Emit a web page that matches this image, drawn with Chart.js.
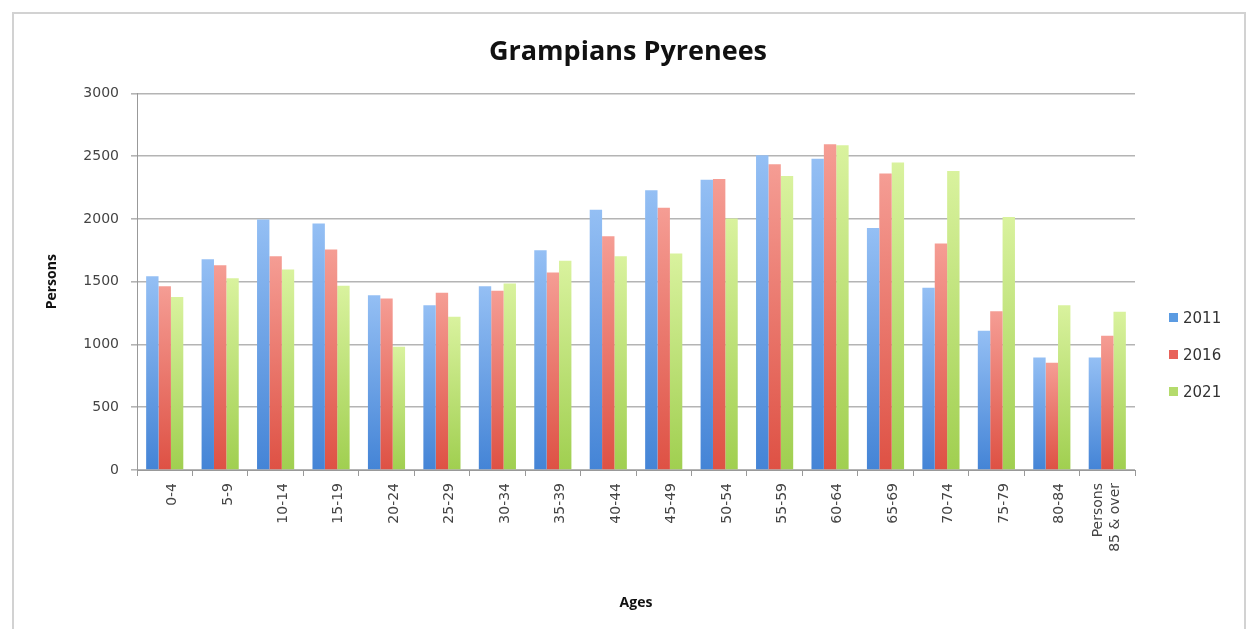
<!DOCTYPE html>
<html>
<head>
<meta charset="utf-8">
<title>Grampians Pyrenees</title>
<script src="https://cdn.jsdelivr.net/npm/chart.js@4/dist/chart.umd.min.js"></script>
<style>
  html, body { margin: 0; padding: 0; background: #fff; }
  #wrap { position: relative; width: 1256px; height: 629px; overflow: hidden; }
  #frame {
    position: absolute; left: 12px; top: 12px; width: 1230px; height: 700px;
    border: 2px solid #d2d2d2; pointer-events: none;
  }
  canvas { position: absolute; left: 0; top: 0; }
  #legend {
    position: absolute; left: 1169px; top: 306px;
    font-family: "DejaVu Sans", sans-serif; font-size: 15px; color: #333;
  }
  #legend .item { height: 37px; line-height: 24px; white-space: nowrap; }
  #legend .sw { display: inline-block; width: 9px; height: 9px; margin-right: 5px; vertical-align: 1px; }
</style>
</head>
<body>
<div id="wrap">
  <canvas id="chart" width="1256" height="629"></canvas>
  <div id="legend"></div>
  <div id="frame"></div>
</div>
<script>
// Population by five-year age group, Grampians Pyrenees
const ageGroups = ['0-4', '5-9', '10-14', '15-19', '20-24', '25-29', '30-34', '35-39', '40-44',
  '45-49', '50-54', '55-59', '60-64', '65-69', '70-74', '75-79', '80-84', 'Persons\n85 & over'];
const years = ['2011', '2016', '2021'];
const persons2011 = [1544, 1679, 1995, 1963, 1393, 1313, 1464, 1751, 2074, 2228, 2313, 2507, 2480, 1928, 1451, 1109, 897, 897];
const persons2016 = [1464, 1631, 1703, 1756, 1366, 1411, 1427, 1573, 1862, 2090, 2318, 2435, 2594, 2361, 1804, 1265, 854, 1069];
const persons2021 = [1379, 1528, 1597, 1467, 981, 1220, 1486, 1666, 1703, 1724, 2003, 2342, 2586, 2449, 2382, 2016, 1313, 1260];
const yTicks = [0, 500, 1000, 1500, 2000, 2500, 3000];

// light top -> deeper bottom shading for each bar
const palette = [
  { top: '#94bff4', bottom: '#4484d6', swatch: '#5b9be2' },
  { top: '#f59d94', bottom: '#de5144', swatch: '#e8625a' },
  { top: '#d9f29e', bottom: '#a0cf50', swatch: '#b4db6c' }
];

function barFill(p) {
  return (ctx) => {
    const chart = ctx.chart;
    if (!chart.chartArea || ctx.type !== 'data' || !chart.scales.y) return p.bottom;
    const ys = chart.scales.y;
    const yTop = ys.getPixelForValue(ctx.parsed.y);
    const yBase = ys.getPixelForValue(0);
    if (!isFinite(yTop) || !isFinite(yBase) || yBase - yTop < 1) return p.bottom;
    const g = chart.ctx.createLinearGradient(0, yTop, 0, yBase);
    g.addColorStop(0, p.top);
    g.addColorStop(1, p.bottom);
    return g;
  };
}

const series = [persons2011, persons2016, persons2021];
const datasets = years.map((yr, i) => ({
  label: yr,
  data: series[i],
  yAxisID: 'y',
  backgroundColor: barFill(palette[i]),
  borderWidth: 0,
  categoryPercentage: 0.67,
  barPercentage: 1.0
}));

const W = 1256, H = 629;
const plotLeft = 137, plotRight = 1135, plotBottom = 470;

new Chart(document.getElementById('chart'), {
  type: 'bar',
  data: { labels: ageGroups, datasets },
  options: {
    responsive: false,
    animation: false,
    events: [],
    layout: { padding: 0 },
    plugins: {
      legend: { display: false },
      tooltip: { enabled: false },
      title: {
        display: true,
        text: 'Grampians Pyrenees',
        color: '#111',
        font: { family: '"Open Sans", sans-serif', size: 27, weight: 'bold' },
        padding: { top: 36, bottom: 25 }
      }
    },
    scales: {
      x: {
        grid: { display: true, drawOnChartArea: false, drawTicks: true, tickLength: 6, color: '#999', offset: true },
        border: { display: true, color: '#999', width: 1 },
        ticks: {
          autoSkip: false,
          maxRotation: 90, minRotation: 90,
          padding: 7,
          labelOffset: -9,
          color: '#444',
          font: { family: '"DejaVu Sans", sans-serif', size: 14 },
          callback: function (value) {
            const lines = ageGroups[value].split('\n');
            return lines.length === 1 ? ['', lines[0]] : lines;
          }
        },
        title: {
          display: true, text: 'Ages', color: '#111',
          font: { family: '"Open Sans", sans-serif', size: 14, weight: 'bold' },
          padding: { top: 0, bottom: 18 }
        },
        afterFit: (s) => { s.height = H - plotBottom; }
      },
      y: {
        position: 'left',
        min: 0, max: 3000,
        afterBuildTicks: (s) => { s.ticks = yTicks.map(v => ({ value: v })); },
        grid: { color: '#b4b4b4', lineWidth: 1.6, tickLength: 6, drawTicks: true },
        border: { display: true, color: '#999', width: 1 },
        ticks: {
          padding: 12, color: '#444',
          font: { family: '"DejaVu Sans", sans-serif', size: 14 },
          callback: (v) => String(v)
        },
        title: {
          display: true, text: 'Persons', color: '#111',
          font: { family: '"Open Sans", sans-serif', size: 14, weight: 'bold' },
          padding: { top: 44, bottom: 0 }
        },
        afterFit: (s) => { s.width = plotLeft; }
      },
      // empty band on the right that holds the legend column
      side: {
        type: 'linear',
        position: 'right',
        min: 0, max: 3000,
        grid: { display: false, drawOnChartArea: false },
        border: { display: false },
        ticks: { display: false },
        afterFit: (s) => { s.width = W - plotRight; }
      }
    }
  }
});

// legend beside the plot
const legendEl = document.getElementById('legend');
years.forEach((yr, i) => {
  const row = document.createElement('div');
  row.className = 'item';
  const sw = document.createElement('span');
  sw.className = 'sw';
  sw.style.background = palette[i].swatch;
  row.appendChild(sw);
  row.appendChild(document.createTextNode(yr));
  legendEl.appendChild(row);
});
</script>
</body>
</html>
